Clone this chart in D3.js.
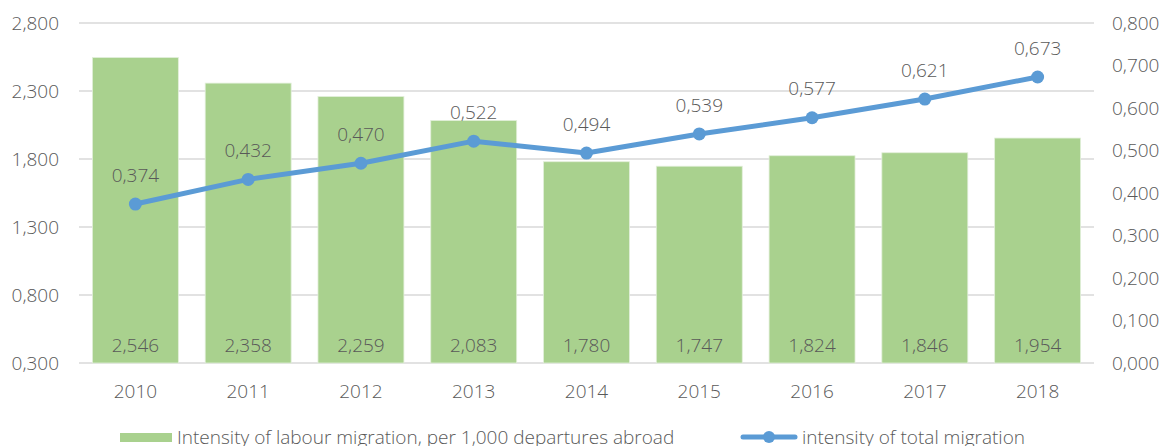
<!DOCTYPE html>
<html>
<head>
<meta charset="utf-8">
<script src="https://cdn.jsdelivr.net/npm/d3@7"></script>
<style>
  body { margin: 0; background: #fff; }
  svg text { font-family: "Open Sans", sans-serif; font-weight: 300; fill: #595959; font-size: 19px; }
</style>
</head>
<body>
<svg width="1169" height="446"></svg>
<script>
var years = ['2010', '2011', '2012', '2013', '2014', '2015', '2016', '2017', '2018'];
var labourValues = [2.546, 2.358, 2.259, 2.083, 1.780, 1.747, 1.824, 1.846, 1.954];
var totalValues = [0.374, 0.432, 0.470, 0.522, 0.494, 0.539, 0.577, 0.621, 0.673];
var leftTicks = [0.3, 0.8, 1.3, 1.8, 2.3, 2.8];
var rightTicks = [0, 0.1, 0.2, 0.3, 0.4, 0.5, 0.6, 0.7, 0.8];
var labourName = 'Intensity of labour migration, per 1,000 departures abroad';
var totalName = 'intensity of total migration';

var fmt = v => d3.format('.3f')(v).replace('.', ',');

var svg = d3.select('svg');
var plotLeft = 79, plotRight = 1094, plotTop = 23, plotBottom = 363;

var x = d3.scaleBand()
          .domain(years)
          .range([plotLeft, plotRight])
          .paddingInner(0.238)
          .paddingOuter(0.119);
var yL = d3.scaleLinear().domain([0.3, 2.8]).range([plotBottom, plotTop]);
var yR = d3.scaleLinear().domain([0, 0.8]).range([plotBottom, plotTop]);
var cx = (d, i) => x(years[i]) + x.bandwidth() / 2;

// gridlines
svg.append('g')
  .selectAll('line')
  .data(leftTicks)
  .enter()
  .append('line')
    .attr('x1', plotLeft)
    .attr('x2', plotRight)
    .attr('y1', d => yL(d))
    .attr('y2', d => yL(d))
    .style('stroke', '#d9d9d9')
    .style('stroke-width', 1.5);

// left axis labels
svg.append('g')
  .selectAll('text')
  .data(leftTicks)
  .enter()
  .append('text')
    .attr('x', 59)
    .attr('y', d => yL(d))
    .attr('dy', '0.35em')
    .attr('text-anchor', 'end')
    .text(fmt);

// right axis labels
svg.append('g')
  .selectAll('text')
  .data(rightTicks)
  .enter()
  .append('text')
    .attr('x', 1112)
    .attr('y', d => yR(d))
    .attr('dy', '0.35em')
    .text(fmt);

// bars
svg.append('g')
  .selectAll('rect')
  .data(labourValues)
  .enter()
  .append('rect')
    .attr('x', (d, i) => x(years[i]))
    .attr('y', d => yL(d))
    .attr('width', x.bandwidth())
    .attr('height', d => yL(0.3) - yL(d))
    .style('fill', '#a9d18e')
    .style('stroke', '#e2efda')
    .style('stroke-width', 0.8);

// bar labels
svg.append('g')
  .selectAll('text')
  .data(labourValues)
  .enter()
  .append('text')
    .attr('x', cx)
    .attr('y', 345)
    .attr('dy', '0.35em')
    .attr('text-anchor', 'middle')
    .text(fmt);

// x labels
svg.append('g')
  .selectAll('text')
  .data(years)
  .enter()
  .append('text')
    .attr('x', d => x(d) + x.bandwidth() / 2)
    .attr('y', 391)
    .attr('dy', '0.35em')
    .attr('text-anchor', 'middle')
    .text(d => d);

// line
var line = d3.line()
             .x(cx)
             .y(d => yR(d));

svg.append('path')
  .datum(totalValues)
  .attr('d', line)
  .style('fill', 'none')
  .style('stroke', '#5b9bd5')
  .style('stroke-width', 5)
  .style('stroke-linejoin', 'round');

svg.append('g')
  .selectAll('circle')
  .data(totalValues)
  .enter()
  .append('circle')
    .attr('cx', cx)
    .attr('cy', d => yR(d))
    .attr('r', 6.5)
    .style('fill', '#5b9bd5');

svg.append('g')
  .selectAll('text')
  .data(totalValues)
  .enter()
  .append('text')
    .attr('x', cx)
    .attr('y', d => yR(d) - 29)
    .attr('dy', '0.35em')
    .attr('text-anchor', 'middle')
    .text(fmt);

// legend
var legend = svg.append('g');
legend.append('rect')
  .attr('x', 120).attr('y', 433)
  .attr('width', 52).attr('height', 9)
  .style('fill', '#a9d18e');
legend.append('text')
  .attr('x', 177).attr('y', 437)
  .attr('dy', '0.35em')
  .text(labourName);
legend.append('line')
  .attr('x1', 743).attr('x2', 795)
  .attr('y1', 437).attr('y2', 437)
  .style('stroke', '#5b9bd5')
  .style('stroke-width', 5)
  .style('stroke-linecap', 'round');
legend.append('circle')
  .attr('cx', 769).attr('cy', 437).attr('r', 6)
  .style('fill', '#5b9bd5');
legend.append('text')
  .attr('x', 802).attr('y', 437)
  .attr('dy', '0.35em')
  .text(totalName);
</script>
</body>
</html>
